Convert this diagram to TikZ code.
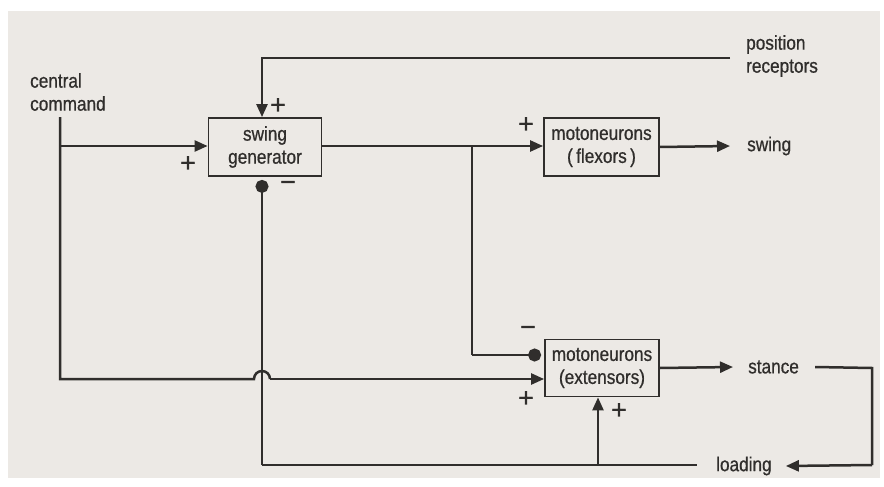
\documentclass[tikz,border=0pt]{standalone}
\usepackage{fontspec}
\setmainfont{Liberation Sans}
\newfontfamily\inkfont[UprightFeatures={FakeBold=0.7,FakeStretch=0.86}]{Liberation Sans}
\newfontfamily\signfont[UprightFeatures={FakeBold=0.7}]{Liberation Sans}
\usetikzlibrary{arrows.meta,calc}
\definecolor{paper}{RGB}{236,233,229}
\definecolor{ink}{RGB}{48,46,44}
\begin{document}
\begin{tikzpicture}[x=1pt,y=-1pt,
  every node/.style={text=ink,font=\inkfont\fontsize{20}{23}\selectfont},
  blockbox/.style={draw=ink,line width=1.8pt,align=center,inner sep=0pt},
  lbl/.style={align=left,inner sep=0pt},
  sign/.style={inner sep=0pt,font=\signfont\fontsize{27}{27}\selectfont},
  conn/.style={draw=ink,line width=2.5pt},
  excite/.style={conn,-{Triangle[length=13pt,width=11pt]}},
  inhib/.style={conn,-{Circle[length=13pt]},shorten >=3pt},
]
\useasboundingbox (0,0) rectangle (884,487);
\fill[white] (0,0) rectangle (884,487);
\fill[paper] (8,11) rectangle (880,478);

% blocks
\node[blockbox,minimum width=113pt,minimum height=58pt] (sg) at (265,147) {swing\\generator};
\node[blockbox,minimum width=115pt,minimum height=58pt] (fl) at (601.5,147) {motoneurons\\(\,flexors\,)};
\node[blockbox,minimum width=114pt,minimum height=57pt] (ex) at (602,368) {motoneurons\\(extensors)};

% text labels
\node[lbl,anchor=west] (cc) at (30,92) {central\\command};
\node[lbl,anchor=west] (pr) at (746,56) {position\\receptors};
\node[lbl,anchor=west] (sw) at (747,146) {swing};
\node[lbl,anchor=west] (st) at (748,367) {stance};
\node[lbl,anchor=west] (ld) at (716,466) {loading};

% signs
\node[sign] (p1) at (278,106) {+};
\node[sign] (p2) at (188,164) {+};
\node[sign] (m1) at (288,186) {−};
\node[sign] (p3) at (526,125) {+};
\node[sign] (m2) at (528,331) {−};
\node[sign] (p4) at (526,399) {+};
\node[sign] (p5) at (619,411) {+};

% coordinates
\coordinate (cctop) at (60,117);
\coordinate (ccbr) at (60,146);
\coordinate (ccbot) at (60,379);
\coordinate (jumpL) at (254,379);
\coordinate (prR) at (730,58);
\coordinate (prL) at (262,58);
\coordinate (br) at (472,146);
\coordinate (brbot) at (472,355);
\coordinate (lowL) at (262,465);
\coordinate (ldB) at (598,465);
\coordinate (ldR) at (697,465);
\coordinate (stR) at (872,368);
\coordinate (stB) at (872,465);

% connectors
\draw[conn] (cctop) -- (ccbot) -- (jumpL) arc[start angle=180,end angle=360,radius=8];
\draw[excite] ($(jumpL)+(16,0)$) -- ($(ex.west)+(0,11)$);
\draw[excite] (ccbr) -- (ccbr -| sg.west);
\draw[excite] (prR) -- (prL) -- (prL |- sg.north);
\draw[excite] (sg.east |- br) -- (br -| fl.west);
\draw[conn] (br) -- (brbot);
\draw[inhib] (brbot) -- (brbot -| ex.west);
\draw[excite] (fl.east) -- ($(sw.west)+(-17,0)$);
\draw[inhib] (lowL) -- (lowL |- sg.south);
\draw[conn] (lowL) -- (ldR);
\draw[excite] (ldB) -- (ldB |- ex.south);
\draw[excite] (ex.east) -- ($(st.west)+(-15,0)$);
\draw[conn] ($(st.east)+(16,0)$) -- (stR) -- (stB);
\draw[excite] (stB) -- ($(ld.east)+(14,0)$);
\end{tikzpicture}
\end{document}
